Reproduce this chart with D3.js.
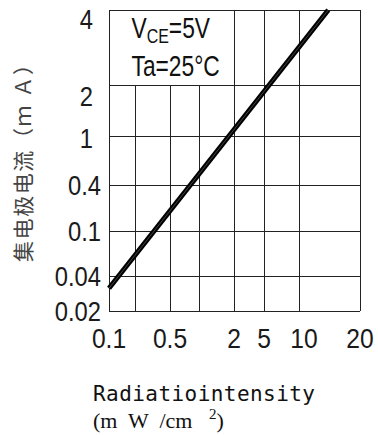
<!DOCTYPE html>
<html>
<head>
<meta charset="utf-8">
<script src="https://cdn.jsdelivr.net/npm/d3@7"></script>
<style>
  body { margin: 0; background: #fff; }
  svg { display: block; }
</style>
</head>
<body>
<div id="chart"></div>
<script>
// x grid values (radiation intensity, mW/cm2) and labelled ticks
const xGrid = [0.1, 0.2, 0.5, 1, 2, 5, 10, 20];
const xLabels = ['0.1', '0.5', '2', '5', '10', '20'];
// y grid values (collector current, mA)
const yGrid = [0.02, 0.04, 0.1, 0.4, 1, 2, 4];
const yLabels = ['0.02', '0.04', '0.1', '0.4', '1', '2', '4'];
// curve
const curveX = [0.1, 14.8];
const curveY = [0.033, 4];

const W = 378, H = 435;
const margin = { top: 10, left: 109 };
const width = 251, height = 301;

// the printed grid is not evenly spaced, so the scales are piecewise
const xStops = [0, 26, 61, 90, 125, 155, 190, 251];
const yStops = [0, 35, 80, 126, 175, 226, 301];

const x = d3.scaleLinear().domain(xGrid).range(xStops);
const y = d3.scaleLinear().domain(yGrid).range(yStops.map(d => height - d));

const svg = d3.select('#chart')
  .append('svg')
  .attr('width', W)
  .attr('height', H);

const g = svg.append('g')
  .attr('transform', 'translate(' + margin.left + ',' + margin.top + ')');

// grid
g.append('g')
  .selectAll('line')
  .data(xGrid)
  .enter()
  .append('line')
  .attr('x1', d => Math.round(x(d)) + 0.5)
  .attr('x2', d => Math.round(x(d)) + 0.5)
  .attr('y1', 0)
  .attr('y2', height)
  .attr('stroke', '#222')
  .attr('stroke-width', 1);

g.append('g')
  .selectAll('line')
  .data(yGrid)
  .enter()
  .append('line')
  .attr('x1', 0)
  .attr('x2', width)
  .attr('y1', d => Math.round(y(d)) + 0.5)
  .attr('y2', d => Math.round(y(d)) + 0.5)
  .attr('stroke', '#222')
  .attr('stroke-width', 1);

// condition box
const bx0 = Math.round(x(0.1)) + 0.5, bx1 = Math.round(x(2)) + 0.5;
const by0 = Math.round(y(4)) + 0.5, by1 = Math.round(y(2)) + 0.5;
g.append('rect')
  .attr('x', bx0)
  .attr('y', by0)
  .attr('width', bx1 - bx0)
  .attr('height', by1 - by0)
  .attr('fill', '#fff')
  .attr('stroke', '#222');

const sansFont = "'Liberation Sans', Arial, sans-serif";
const t1 = g.append('text')
  .attr('transform', 'translate(' + (bx0 + 22) + ',' + (by0 + 27) + ') scale(0.76,1)')
  .attr('font-family', sansFont)
  .attr('font-size', 30)
  .attr('fill', '#111');
t1.append('tspan').text('V');
t1.append('tspan').attr('font-size', 21).attr('dy', 5).text('CE');
t1.append('tspan').attr('dy', -5).text('=5V');

g.append('text')
  .attr('transform', 'translate(' + (bx0 + 22) + ',' + (by0 + 65) + ') scale(0.76,1)')
  .attr('font-family', sansFont)
  .attr('font-size', 30)
  .attr('fill', '#111')
  .text('Ta=25°C');

// curve
const line = d3.line()
  .x(d => x(d[0]))
  .y(d => y(d[1]));
const pts = curveX.map((v, i) => [v, curveY[i]]);

g.append('path')
  .datum(pts)
  .attr('d', line)
  .attr('fill', 'none')
  .attr('stroke', '#000')
  .attr('stroke-width', 5);

g.append('path')
  .datum(pts)
  .attr('d', line)
  .attr('fill', 'none')
  .attr('stroke', '#555')
  .attr('stroke-width', 0.8);

// tick labels
g.append('g')
  .selectAll('text')
  .data(yLabels)
  .enter()
  .append('text')
  .attr('transform', d => 'translate(' + (+d >= 1 ? -16 : -8) + ',' +
    (y(+d) + (+d === 4 ? 19 : +d === 2 ? 21 : +d === 1 ? 12 : 10)) + ') scale(0.88,1)')
  .attr('text-anchor', 'end')
  .attr('font-family', sansFont)
  .attr('font-size', 27)
  .attr('fill', '#1a1a1a')
  .text(d => d);

g.append('g')
  .selectAll('text')
  .data(xLabels)
  .enter()
  .append('text')
  .attr('transform', d => 'translate(' + (x(+d) + (+d === 10 ? 5 : 0)) + ',' + (height + 37) + ') scale(0.88,1)')
  .attr('text-anchor', 'middle')
  .attr('font-family', sansFont)
  .attr('font-size', 28)
  .attr('fill', '#1a1a1a')
  .text(d => d);

// axis titles
svg.append('text')
  .attr('transform', 'translate(31,158) rotate(-90)')
  .attr('text-anchor', 'middle')
  .attr('font-family', "'Noto Sans CJK SC', sans-serif")
  .attr('font-size', 21)
  .attr('fill', '#444')
  .attr('textLength', 208)
  .attr('lengthAdjust', 'spacing')
  .text('集电极电流（ｍ Ａ）');

svg.append('text')
  .attr('x', 93)
  .attr('y', 401)
  .attr('font-family', "'DejaVu Sans Mono', monospace")
  .attr('font-size', 21)
  .attr('fill', '#111')
  .attr('textLength', 222)
  .attr('lengthAdjust', 'spacing')
  .text('Radiatiointensity');

const unit = svg.append('text')
  .attr('x', 93)
  .attr('y', 428)
  .attr('font-family', "'Liberation Serif', serif")
  .attr('font-size', 22)
  .attr('fill', '#111')
  .attr('xml:space', 'preserve');
unit.append('tspan').text('(m  W  /cm   ');
unit.append('tspan').attr('font-size', 15).attr('dy', -9).text('2');
unit.append('tspan').attr('dy', 9).text(')');
</script>
</body>
</html>
